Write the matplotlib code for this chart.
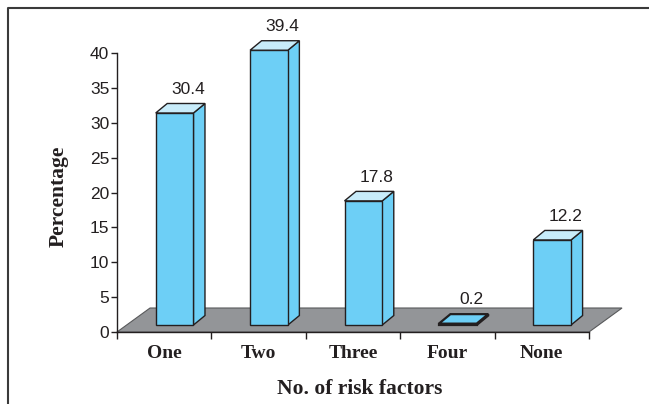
import matplotlib
matplotlib.use("Agg")
import matplotlib.pyplot as plt
from matplotlib.patches import Polygon
from matplotlib.lines import Line2D

categories = ["One", "Two", "Three", "Four", "None"]
values = [30.4, 39.4, 17.8, 0.2, 12.2]
yticks = [0, 5, 10, 15, 20, 25, 30, 35, 40]

front_col = "#6dcff6"
top_col = "#c8ecfa"
side_col = "#6dcff6"
edge_col = "#231f20"
floor_col = "#939598"

fig = plt.figure(figsize=(6.49, 4.04), dpi=100)
ax = fig.add_axes([117 / 649, 72 / 404, 472 / 649, 279 / 404])
ax.set_xlim(0, 5)
ax.set_ylim(0, 40)

# floor (3d depth offsets in data units)
fdx, fdy = 0.35, 3.44
floor = Polygon([(0, 0), (5, 0), (5 + fdx, fdy), (fdx, fdy)], closed=True,
                facecolor=floor_col, edgecolor="#58595b", lw=0.8,
                clip_on=False, zorder=1)
ax.add_patch(floor)

bw = 0.40      # bar width
off_x, off_y = 0.11, 1.0   # bar placed a bit back on the floor
ddx, ddy = 0.122, 1.36     # bar depth

for i, v in enumerate(values):
    xc = i + 0.5 + off_x
    x0, x1 = xc - bw / 2, xc + bw / 2
    y0, y1 = off_y, off_y + v
    lw = 1.0 if v > 1 else 1.6
    front = Polygon([(x0, y0), (x1, y0), (x1, y1), (x0, y1)],
                    facecolor=front_col, edgecolor=edge_col, lw=lw,
                    clip_on=False, zorder=3)
    side = Polygon([(x1, y0), (x1 + ddx, y0 + ddy), (x1 + ddx, y1 + ddy), (x1, y1)],
                   facecolor=side_col, edgecolor=edge_col, lw=lw,
                   clip_on=False, zorder=3)
    top = Polygon([(x0, y1), (x1, y1), (x1 + ddx, y1 + ddy), (x0 + ddx, y1 + ddy)],
                  facecolor=top_col if v > 1 else front_col, edgecolor=edge_col, lw=lw,
                  clip_on=False, zorder=3)
    ax.add_patch(side)
    ax.add_patch(front)
    ax.add_patch(top)
    ax.text(xc + 0.14, y1 + ddy + 1.4, f"{v}", ha="center", va="baseline",
            family="Liberation Sans", fontsize=12.5, color="#231f20", zorder=4)

for s in ["top", "right"]:
    ax.spines[s].set_visible(False)
for s in ["left", "bottom"]:
    ax.spines[s].set_color("#231f20")
    ax.spines[s].set_linewidth(1.0)
    ax.spines[s].set_zorder(5)

ax.set_yticks(yticks)
ax.set_yticklabels([str(t) for t in yticks], family="Liberation Sans", fontsize=12.5)
ax.tick_params(axis="y", direction="out", length=4, width=1, pad=1.5, colors="#231f20")

ax.set_xticks(range(6))
ax.set_xticklabels([])
ax.set_xticks([i + 0.5 for i in range(5)], minor=True)
ax.set_xticklabels(categories, minor=True, family="Liberation Serif",
                   fontweight="bold", fontsize=14)
ax.tick_params(axis="x", which="major", direction="out", length=5, width=1, colors="#231f20")
ax.tick_params(axis="x", which="minor", length=0, pad=9, colors="#231f20")

fig.text(360 / 649, 1 - 389 / 404, "No. of risk factors", ha="center", va="center",
         family="Liberation Serif", fontweight="bold", fontsize=15.5, color="#231f20")
fig.text(59 / 649, 1 - 196 / 404, "Percentage", ha="center", va="center", rotation=90,
         family="Liberation Serif", fontweight="bold", fontsize=15.5, color="#231f20")

# outer frame (top and left edges visible)
fig.add_artist(Line2D([7.5 / 649, 7.5 / 649, 1.0], [0.0, 1 - 8 / 404, 1 - 8 / 404],
                      transform=fig.transFigure, color="#3a3a3a", lw=1.5))

fig.savefig("out.png", dpi=100)
